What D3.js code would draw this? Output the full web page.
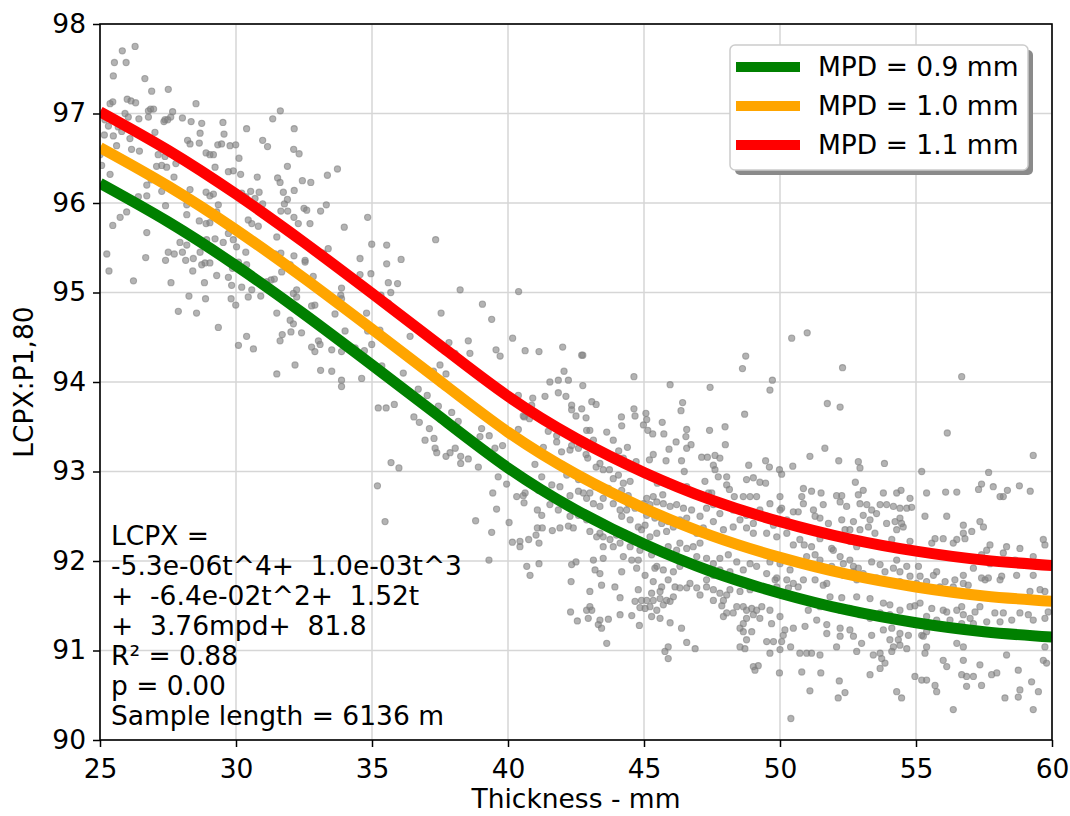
<!DOCTYPE html>
<html lang="en">
<head>
<meta charset="UTF-8">
<title>LCPX vs thickness</title>
<script src="https://cdn.jsdelivr.net/npm/d3@7"></script>
<style>
    body { margin: 0; background: #fff; }
    text { font-family: "DejaVu Sans", sans-serif; fill: #000; }
</style>
</head>
<body>
<script>
    const xTicks = [25, 30, 35, 40, 45, 50, 55, 60]
    const yTicks = [90, 91, 92, 93, 94, 95, 96, 97, 98]
    // fitted curves, every 2.5 mm
    const curveT = [25, 27.5, 30, 32.5, 35, 37.5, 40, 42.5, 45, 47.5, 50, 52.5, 55, 57.5, 60]
    const mpd09 = [96.22, 95.79, 95.30, 94.76, 94.19, 93.61, 93.04, 92.57, 92.19, 91.88, 91.64, 91.45, 91.31, 91.21, 91.15]
    const mpd10 = [96.62, 96.19, 95.70, 95.16, 94.59, 94.01, 93.44, 92.97, 92.59, 92.28, 92.04, 91.85, 91.71, 91.61, 91.55]
    const mpd11 = [97.02, 96.59, 96.10, 95.56, 94.99, 94.41, 93.84, 93.37, 92.99, 92.68, 92.44, 92.25, 92.11, 92.01, 91.95]
    const legendLabels = ['MPD = 0.9 mm', 'MPD = 1.0 mm', 'MPD = 1.1 mm']
    const noteLines = ['LCPX =', '-5.3e-06t^4+  1.0e-03t^3', '+  -6.4e-02t^2+  1.52t', '+  3.76mpd+  81.8',
        'R\u00b2 = 0.88', 'p = 0.00', 'Sample length = 6136 m']
    // measured points [thickness, LCPX]
    const samples = [
        [26.29,97.75],[25.82,97.70],[25.53,97.57],[25.96,97.57],[25.49,97.42],[26.65,97.39],[26.90,97.25],[27.51,97.27],
        [26.00,97.16],[26.14,97.14],[26.31,97.12],[25.47,97.13],[25.37,97.11],[28.53,97.11],[26.86,97.05],[26.97,97.05],
        [26.78,97.03],[27.67,97.02],[31.63,97.03],[31.35,96.94],[26.43,96.94],[25.92,97.00],[26.04,96.96],[26.78,96.96],
        [27.39,96.93],[27.35,96.91],[27.49,96.93],[27.60,96.96],[28.03,96.95],[28.35,96.91],[28.74,96.89],[29.52,96.90],
        [30.39,96.83],[32.14,96.83],[25.31,96.86],[25.67,96.85],[25.80,96.80],[25.49,96.75],[26.10,96.72],[27.02,96.79],
        [28.68,96.78],[29.56,96.77],[28.22,96.70],[28.31,96.66],[28.65,96.67],[29.33,96.65],[29.47,96.66],[29.78,96.64],
        [29.99,96.65],[30.98,96.70],[31.16,96.63],[32.12,96.60],[32.32,96.55],[25.61,96.64],[26.16,96.60],[26.45,96.58],
        [27.14,96.54],[27.39,96.52],[28.90,96.56],[29.04,96.54],[29.17,96.54],[30.11,96.50],[31.89,96.41],[33.73,96.38],
        [33.36,96.31],[27.08,96.41],[27.27,96.42],[27.45,96.40],[27.79,96.44],[29.23,96.40],[29.72,96.35],[29.90,96.36],
        [30.17,96.32],[30.78,96.29],[31.53,96.28],[31.62,96.23],[32.44,96.25],[32.75,96.23],[25.37,96.32],[27.72,96.29],
        [26.72,96.20],[26.88,96.26],[28.31,96.15],[27.27,96.13],[28.90,96.12],[29.04,96.08],[29.17,96.10],[30.21,96.11],
        [30.54,96.13],[30.85,96.12],[30.36,96.07],[30.70,96.05],[30.98,95.99],[31.74,96.12],[32.14,96.14],[31.89,96.04],
        [31.78,95.99],[31.90,95.91],[31.65,95.91],[32.50,95.94],[32.60,95.92],[33.11,95.91],[33.32,95.98],[32.29,95.77],
        [32.72,95.77],[33.98,95.73],[34.84,95.84],[25.98,95.90],[25.74,95.84],[25.47,95.75],[26.41,96.07],[26.72,96.08],
        [27.41,95.97],[28.19,95.98],[28.19,95.87],[28.65,95.80],[28.90,95.77],[29.04,95.78],[29.29,95.90],[29.35,95.98],
        [30.45,95.81],[30.58,95.77],[30.82,95.74],[31.31,95.81],[32.13,95.84],[25.00,96.54],[25.06,96.42],[25.16,96.76],
        [25.18,96.93],
        [26.72,95.67],[25.25,95.43],[25.33,95.24],[26.23,95.13],[26.68,95.39],[27.41,95.36],[27.51,95.45],[27.73,95.43],
        [27.94,95.56],[28.03,95.45],[28.15,95.36],[28.19,95.53],[28.43,95.38],[28.41,95.24],[28.68,95.45],[28.74,95.31],
        [28.86,95.33],[29.04,95.33],[28.92,95.59],[29.23,95.60],[29.53,95.56],[29.72,95.66],[29.90,95.59],[30.02,95.51],
        [30.36,95.45],[30.09,95.34],[30.39,95.31],[29.87,95.27],[29.72,95.17],[29.84,95.08],[30.21,95.06],[30.58,95.03],
        [30.91,94.96],[30.45,94.95],[29.82,94.93],[29.99,94.86],[28.88,94.93],[28.27,94.96],[27.61,95.11],[28.84,95.11],
        [29.29,95.19],[27.88,94.79],[28.55,94.77],[29.35,94.61],[30.39,94.51],[30.09,94.41],[30.64,94.37],[31.50,94.77],
        [31.99,94.69],[32.11,94.65],[32.41,94.55],[32.02,94.56],[31.70,94.53],[31.62,94.46],[32.78,94.39],[32.90,94.34],
        [33.09,94.42],[33.03,94.46],[33.27,94.60],[34.01,94.57],[33.52,94.36],[33.88,94.34],[34.38,94.38],[34.72,94.35],
        [34.80,94.77],[34.84,94.57],[34.99,94.42],[33.64,94.76],[32.17,94.19],[31.50,94.09],[33.11,94.13],[33.52,94.12],
        [33.88,94.02],[33.88,93.95],[34.62,94.04],[31.43,95.43],[31.65,95.44],[32.13,95.41],[32.54,95.36],[32.54,95.34],
        [32.84,95.18],[32.44,95.18],[31.29,95.14],[31.41,95.15],[31.13,95.12],[32.23,95.03],[32.11,94.99],[32.23,94.95],
        [32.78,94.85],[32.90,94.86],[33.39,95.49],[33.21,95.44],[34.56,95.38],[34.56,95.20],[34.96,95.21],[33.88,95.05],
        [33.85,94.97],[33.88,94.93],[31.68,95.23],[31.99,95.31],[34.99,95.54],[31.50,95.62],
        [37.34,95.59],[38.24,95.03],[40.39,95.01],[39.06,94.87],[39.40,94.70],[37.54,94.77],[40.17,94.49],[39.56,94.36],
        [38.54,94.46],[37.83,94.44],[38.60,94.32],[40.63,94.35],[41.14,94.34],[42.01,94.39],[42.71,94.30],[35.54,95.53],
        [35.54,95.32],[36.07,95.37],[35.60,95.11],[35.94,95.10],[35.69,95.00],[35.33,94.97],[35.60,94.88],[35.29,94.58],
        [36.40,94.51],[38.05,94.32],[39.71,94.29],
        [35.36,94.18],[36.15,94.10],[37.26,94.12],[37.50,94.19],[37.72,94.09],[36.70,93.92],[37.03,93.85],[35.82,93.75],
        [35.23,93.71],[35.52,93.71],[37.44,93.73],[37.93,93.66],[38.17,93.56],[36.54,93.61],[36.74,93.55],[37.11,93.48],
        [36.95,93.35],[37.28,93.37],[37.32,93.26],[37.38,93.21],[37.72,93.17],[37.87,93.21],[38.06,93.26],[38.26,93.17],
        [38.26,93.09],[38.54,93.14],[35.70,93.10],[35.99,93.04],[35.20,92.84],[38.91,93.05],[39.03,93.48],[38.97,93.39],
        [39.31,93.40],[39.52,93.26],[39.80,93.29],[39.64,92.94],[39.44,92.76],[39.95,92.86],[40.38,93.47],[40.60,93.61],
        [40.79,93.59],[40.99,93.08],[41.24,92.94],[41.54,94.00],[41.85,94.02],[42.22,94.02],[42.06,94.12],[41.85,93.88],
        [42.13,93.84],[41.36,93.84],[40.69,93.72],[40.87,93.74],[42.34,93.74],[42.34,93.69],[42.50,93.62],[40.56,93.62],
        [41.30,93.58],[41.48,93.45],[41.79,93.40],[41.97,93.22],[42.28,93.24],[42.59,93.26],[42.34,93.29],[41.79,93.33],
        [42.16,92.96],[41.61,92.85],[41.91,92.83],[42.28,92.73],[40.56,92.73],[40.32,92.72],[40.63,92.76],[41.12,92.79],
        [40.91,93.82],[40.38,93.85],[42.59,92.91],[42.59,92.78],[42.03,93.07],[41.54,93.13],[41.30,93.27],[40.93,93.27],
        [35.48,92.44],[38.81,92.45],[39.40,92.32],[39.58,92.58],[40.04,92.43],[39.30,92.01],[40.16,92.21],[40.44,92.22],
        [40.44,92.16],[40.76,92.24],[41.14,92.20],[41.03,92.29],[41.08,92.37],[41.26,92.37],[41.63,92.34],[41.91,92.37],
        [42.22,92.39],[42.40,92.37],[40.59,92.65],[41.08,92.57],[41.24,92.51],[41.54,92.63],[41.85,92.57],[42.28,92.50],
        [42.59,92.51],[40.69,91.94],[40.81,91.84],[41.14,91.97],[42.34,91.96],[42.50,91.99],[42.32,91.77],[42.30,91.43],
        [42.55,91.33],
        [50.43,94.49],[48.74,94.29],[48.62,94.15],[49.72,94.02],[49.63,93.91],[44.63,94.06],[45.96,93.97],[47.43,93.94],
        [42.75,94.30],[42.75,93.96],[42.71,93.70],[43.08,93.78],[43.24,93.75],[42.87,93.60],[44.63,93.70],[44.67,93.62],
        [45.07,93.65],[45.10,93.58],[44.17,93.61],[44.18,93.51],[44.98,93.52],[45.14,93.46],[45.32,93.42],[45.67,93.55],
        [45.73,93.42],[46.42,93.77],[46.36,93.68],[46.57,93.47],[46.54,93.39],[46.73,93.30],[46.57,93.26],[46.18,93.33],
        [45.92,93.25],[47.41,93.46],[47.98,93.50],[47.99,93.30],[48.70,93.64],[42.89,93.46],[43.01,93.46],[43.63,93.44],
        [43.87,93.35],[43.14,93.35],[44.39,93.27],[44.07,93.23],[42.87,93.19],[42.93,93.15],[43.38,93.09],[43.24,93.05],
        [43.50,93.02],[43.73,93.02],[44.06,92.96],[44.24,93.15],[44.71,93.11],[45.20,93.13],[45.34,93.19],[45.81,93.12],
        [46.38,93.12],[47.12,93.16],[47.33,93.16],[47.61,93.18],[47.79,93.15],[47.55,93.07],[47.61,93.02],[46.48,93.00],
        [47.73,92.94],[48.04,92.94],[48.04,92.85],[48.14,92.80],[47.24,92.89],[48.85,93.07],[49.47,93.12],[49.61,93.05],
        [49.98,93.02],[50.47,93.06],[50.06,92.97],[48.77,92.91],[49.02,92.93],[49.26,92.88],[49.47,92.87],[48.65,92.72],
        [48.90,92.72],[49.14,92.72],[50.00,92.72],[46.57,92.83],[45.93,92.85],[45.22,92.94],[45.49,92.87],[45.34,92.72],
        [45.10,92.70],[45.69,92.74],[44.49,92.89],[44.24,92.87],[43.87,92.92],[44.18,92.79],[44.42,92.73],[43.69,92.81],
        [43.20,92.83],[42.77,92.76],[43.01,92.76],[42.89,92.70],[43.50,92.70],[47.37,92.76],[47.49,92.76],[48.32,92.72],
        [51.00,94.55],[52.30,94.16],[56.68,94.06],[51.74,93.76],[52.21,93.72],[56.15,93.43],[59.31,93.18],[51.65,93.26],
        [51.10,93.17],[52.16,93.12],[52.88,93.11],[52.94,93.04],[53.84,93.09],[55.21,93.00],[57.67,92.99],[52.77,92.88],
        [57.41,92.86],[57.84,92.83],[58.80,92.84],[58.36,92.79],[57.30,92.80],[59.20,92.78],[56.50,92.77],[56.09,92.77],
        [55.39,92.76],[50.86,92.81],[51.16,92.78],[51.51,92.76],[50.80,92.72],[52.08,92.73],[52.27,92.73],[53.06,92.79],
        [52.88,92.74],[53.80,92.76],[54.29,92.76],[54.45,92.79],[54.78,92.70],[58.21,92.72],[58.09,92.72],
        [43.14,92.64],[43.38,92.61],[43.87,92.64],[44.12,92.57],[44.36,92.57],[44.42,92.64],[44.67,92.59],[44.98,92.64],
        [45.22,92.63],[45.47,92.66],[45.71,92.64],[45.96,92.61],[46.20,92.63],[46.45,92.59],[45.10,92.51],[45.40,92.48],
        [45.65,92.42],[45.89,92.44],[46.32,92.46],[46.57,92.48],[44.49,92.46],[44.18,92.50],[44.79,92.38],[45.47,92.31],
        [45.83,92.33],[46.08,92.38],[45.22,92.27],[44.91,92.35],[45.04,92.40],[46.75,92.57],[47.06,92.50],[47.30,92.59],
        [47.55,92.63],[47.79,92.53],[48.04,92.64],[48.28,92.57],[48.53,92.46],[48.77,92.51],[49.02,92.42],[49.26,92.57],
        [49.51,92.50],[49.76,92.40],[50.00,92.57],[50.25,92.46],[50.49,92.55],[50.67,92.55],[49.63,92.64],[50.06,92.59],
        [48.77,92.37],[48.28,92.38],[47.92,92.35],[47.55,92.44],[47.18,92.37],[46.94,92.31],[49.02,92.31],[49.51,92.31],
        [49.88,92.27],[50.25,92.31],[50.49,92.18],[50.73,92.24],[47.06,92.20],
        [42.89,92.46],[43.01,92.33],[43.26,92.27],[43.50,92.27],[43.75,92.24],[43.99,92.29],[43.87,92.16],[43.50,92.16],
        [43.38,92.31],[44.12,92.20],[44.30,92.31],[44.61,92.25],[44.85,92.12],[45.10,92.20],[44.49,92.16],[44.24,92.05],
        [44.79,92.01],[45.28,92.07],[45.65,92.09],[45.89,92.16],[46.20,92.12],[46.32,92.20],[46.57,92.14],[46.81,92.16],
        [46.94,92.05],[46.69,91.99],[47.06,91.94],[47.30,92.03],[47.55,91.97],[47.79,92.03],[48.10,92.07],[48.41,91.99],
        [48.65,91.90],[48.90,91.97],[49.14,91.94],[49.51,91.86],[49.88,91.81],[50.25,91.79],[50.49,91.75],[49.63,91.99],
        [50.00,91.97],[50.37,91.90],[47.79,91.90],[48.16,91.88],[48.53,91.79],[47.55,91.84],[47.30,91.79],[46.32,91.94],
        [46.08,91.88],[45.71,91.90],[45.47,91.94],
        [43.14,92.01],[43.50,92.03],[43.20,91.90],[43.38,91.86],[44.18,91.88],[44.55,92.01],[45.04,91.84],[44.73,91.92],
        [45.40,91.92],[45.34,91.77],[45.65,91.71],[45.89,91.79],[46.14,91.71],[46.32,91.70],[46.57,91.70],[45.59,91.66],
        [45.28,91.64],[44.79,91.68],[44.12,91.59],[44.67,91.55],[44.91,91.56],[45.10,91.56],[45.22,91.49],[45.34,91.56],
        [45.59,91.58],[45.83,91.56],[46.08,91.60],[45.96,91.55],[45.71,91.51],[45.47,91.45],[45.28,91.38],[45.59,91.36],
        [45.04,91.47],[44.85,91.48],[44.55,91.39],[44.12,91.40],[43.69,91.35],[43.38,91.34],[43.32,91.29],[43.44,91.25],
        [43.01,91.49],[43.08,91.45],[42.89,91.45],[42.95,91.36],[43.01,91.66],[43.44,91.73],[43.93,91.71],[45.96,91.31],
        [46.38,91.25],[46.57,91.09],[46.88,91.02],[45.89,91.04],[45.77,90.99],[45.89,90.91],[43.63,91.08],[44.83,91.28],
        [47.79,91.64],[47.55,91.56],[47.92,91.56],[48.04,91.62],[47.86,91.50],[48.04,91.42],[47.92,91.38],[48.28,91.42],
        [48.41,91.49],[48.65,91.49],[48.77,91.45],[48.96,91.47],[49.14,91.45],[49.33,91.49],[49.02,91.40],[48.77,91.36],
        [48.65,91.30],[48.53,91.25],[48.65,91.21],[48.96,91.21],[48.77,91.12],[48.71,91.02],[48.53,91.04],[49.26,91.36],
        [49.63,91.45],[49.69,91.30],[50.00,91.38],[50.18,91.23],[50.49,91.25],[50.12,91.17],[50.06,91.10],[49.76,91.10],
        [49.51,91.10],[50.39,91.04],[50.73,90.97],[50.00,91.01],[49.63,90.97],[49.02,90.82],[49.08,90.78],[49.20,90.83],
        [49.98,90.75],[47.30,91.71],[46.94,91.70],[46.69,91.75],[47.06,91.62],[47.55,91.68],[48.16,91.68],[48.53,91.66],
        [48.90,91.68],[49.26,91.71],[49.57,91.70],[49.88,91.71],[50.31,91.70],[50.67,91.71],[49.82,91.79],
        [50.86,92.64],[51.23,92.57],[51.59,92.63],[52.21,92.66],[52.45,92.61],[52.94,92.64],[53.19,92.63],[53.37,92.57],
        [53.68,92.63],[53.92,92.63],[54.17,92.61],[54.41,92.59],[54.66,92.59],[54.84,92.60],[51.47,92.48],[51.78,92.42],
        [51.29,92.50],[52.27,92.46],[52.70,92.44],[53.06,92.51],[53.31,92.46],[53.55,92.53],[53.92,92.42],[54.23,92.44],
        [54.47,92.42],[54.41,92.48],[52.57,92.35],[52.39,92.35],[52.94,92.35],[53.25,92.38],[53.49,92.31],[54.29,92.35],
        [54.53,92.38],[50.89,92.18],[51.16,92.16],[51.47,92.25],[51.90,92.14],[52.57,92.22],[52.82,92.16],[53.19,92.22],
        [53.55,92.18],[54.11,92.24],[54.78,92.22],[55.33,92.50],[56.13,92.50],[56.74,92.40],[57.35,92.44],[57.48,92.38],
        [57.05,92.33],[56.80,92.25],[56.50,92.24],[55.70,92.25],[56.00,92.25],[55.58,92.20],[56.37,92.20],[56.74,92.31],
        [57.60,92.12],[57.72,92.18],[58.33,92.16],[58.82,92.14],[59.68,92.24],[59.74,92.18],[57.41,92.07],[58.21,92.09],
        [57.72,91.97],[58.33,91.99],[58.64,92.01],[59.31,92.05],
        [50.98,92.05],[51.10,91.96],[51.47,92.01],[51.29,92.07],[51.96,92.12],[52.21,92.05],[51.90,91.94],[52.33,91.97],
        [52.57,92.01],[52.70,91.94],[52.88,91.92],[53.06,91.86],[53.37,91.99],[53.68,91.96],[53.86,91.88],[54.17,91.92],
        [54.41,91.88],[54.29,92.01],[54.66,91.94],[54.78,91.83],[55.09,91.94],[55.15,91.83],[55.39,91.77],[55.64,91.84],
        [55.76,91.88],[56.07,91.77],[56.43,91.79],[56.74,91.84],[57.11,91.92],[57.41,91.81],[57.54,91.79],[57.66,91.81],
        [58.09,91.79],[58.15,91.83],[58.70,91.84],[59.31,91.84],[59.74,91.66],[59.56,91.68],[59.19,91.66],[50.86,91.79],
        [51.29,91.79],[51.59,91.73],[51.72,91.75],[52.33,91.84],[52.70,91.88],[52.82,91.79],[53.19,91.81],[53.55,91.81],
        [53.92,91.77],[54.41,91.77],[55.02,91.75],[55.45,91.70],[55.88,91.71],[56.37,91.71],[56.74,91.75],[56.92,91.73],
        [51.84,91.60],[52.27,91.59],[52.82,91.60],[53.31,91.58],[53.80,91.53],[54.04,91.51],[54.78,91.49],[54.96,91.50],
        [55.15,91.53],[55.58,91.47],[56.00,91.45],[56.13,91.43],[56.50,91.45],[56.68,91.49],[56.74,91.40],[56.99,91.36],
        [57.17,91.43],[57.35,91.49],[57.90,91.42],[58.21,91.42],[58.52,91.34],[58.82,91.42],[59.13,91.40],[59.31,91.34],
        [59.74,91.36],[59.86,91.43],[58.09,91.32],[57.60,91.32],[57.11,91.30],[56.68,91.30],[56.25,91.34],[55.88,91.29],
        [55.76,91.34],[55.39,91.38],[54.41,91.45],[54.04,91.40],[53.68,91.42],[53.31,91.36],[52.94,91.40],[52.57,91.47],
        [52.21,91.45],[51.47,91.49],[51.23,91.53],[51.04,91.45],[50.92,91.27],[51.35,91.34],[51.72,91.29],[52.21,91.25],
        [52.57,91.23],[53.37,91.17],[53.80,91.23],[54.11,91.25],[54.41,91.19],[54.72,91.17],[55.21,91.17],[55.39,91.21],
        [50.98,90.97],[51.16,90.97],[51.47,90.95],[50.80,90.76],[51.50,90.75],[52.08,91.04],[52.82,90.99],[53.00,91.08],
        [53.43,90.95],[53.68,90.97],[53.74,90.91],[53.86,90.86],[53.68,90.80],[53.31,90.73],[54.04,91.12],[54.17,91.04],
        [54.35,91.12],[54.41,91.06],[54.11,90.99],[54.66,91.02],[55.27,91.16],[55.39,91.04],[55.33,90.97],[56.00,90.89],
        [56.13,90.82],[56.50,91.08],[56.74,91.04],[56.74,90.89],[56.68,90.73],[56.86,90.71],[57.11,90.71],[57.35,90.84],
        [56.86,90.60],[57.41,90.61],[57.78,90.73],[57.97,90.75],[58.33,90.95],[58.76,90.78],[59.25,90.65],[59.50,90.54],
        [58.82,90.56],[58.27,90.47],[58.76,90.48],[59.68,90.89],[59.74,91.04],[59.80,90.86],[51.10,90.55],[52.18,90.66],
        [52.39,90.53],[52.14,90.47],[54.29,90.54],[54.47,90.47],[54.96,90.71],[55.21,90.67],[55.39,90.67],[55.70,90.61],
        [55.76,90.54],[56.37,90.34],[59.31,90.34],[51.72,91.19],[52.70,91.16],[52.21,91.16],
        [50.40,90.24]
    ]

    const [width, height] = [1070, 816]
    const plot = {left: 100, right: 1052, top: 24, bottom: 740}
    const fontSize = 26.5

    const x = d3.scaleLinear().domain([25, 60]).range([plot.left, plot.right])
    const y = d3.scaleLinear().domain([90, 98]).range([plot.bottom, plot.top])

    const svg = d3.select('body').append('svg')
        .attr('width', width)
        .attr('height', height)

    // grid
    const grid = svg.append('g').attr('stroke', '#d6d6d6').attr('stroke-width', 1.5)
    grid.selectAll('line.vx').data(xTicks).enter().append('line')
        .attr('x1', d => x(d)).attr('x2', d => x(d))
        .attr('y1', plot.top).attr('y2', plot.bottom)
    grid.selectAll('line.hy').data(yTicks).enter().append('line')
        .attr('y1', d => y(d)).attr('y2', d => y(d))
        .attr('x1', plot.left).attr('x2', plot.right)

    svg.append('clipPath').attr('id', 'clip').append('rect')
        .attr('x', plot.left).attr('y', plot.top)
        .attr('width', plot.right - plot.left).attr('height', plot.bottom - plot.top)

    // scatter
    svg.append('g').attr('clip-path', 'url(#clip)')
        .selectAll('circle').data(samples).enter().append('circle')
        .attr('cx', d => x(d[0]))
        .attr('cy', d => y(d[1]))
        .attr('r', 3.1)
        .attr('fill', '#808080')
        .attr('fill-opacity', 0.6)
        .attr('stroke', '#808080')
        .attr('stroke-opacity', 0.6)
        .attr('stroke-width', 1.1)

    // fitted curves
    const series = [mpd09, mpd10, mpd11]
    const colors = ['green', 'orange', 'red']
    const line = d3.line()
        .x((d, i) => x(curveT[i]))
        .y(d => y(d))
        .curve(d3.curveNatural)
    svg.append('g').attr('clip-path', 'url(#clip)')
        .selectAll('path').data(series).enter().append('path')
        .attr('d', d => line(d))
        .attr('fill', 'none')
        .attr('stroke', (d, i) => colors[i])
        .attr('stroke-width', 11)

    // axes
    const xAxis = d3.axisBottom(x).tickValues(xTicks).tickSize(7).tickPadding(12)
    const yAxis = d3.axisLeft(y).tickValues(yTicks).tickSize(7).tickPadding(7)
    const gx = svg.append('g').attr('transform', `translate(0,${plot.bottom})`).call(xAxis)
    const gy = svg.append('g').attr('transform', `translate(${plot.left},0)`).call(yAxis)
    ;[gx, gy].forEach(g => {
        g.select('.domain').remove()
        g.selectAll('.tick line').attr('stroke', '#000').attr('stroke-width', 1.5)
        g.selectAll('.tick text').attr('font-size', fontSize).attr('font-family', '"DejaVu Sans", sans-serif').attr('fill', '#000')
    })

    svg.append('rect')
        .attr('x', plot.left).attr('y', plot.top)
        .attr('width', plot.right - plot.left).attr('height', plot.bottom - plot.top)
        .attr('fill', 'none').attr('stroke', '#000').attr('stroke-width', 1.6)

    // axis titles
    svg.append('text')
        .attr('x', (plot.left + plot.right) / 2).attr('y', 808)
        .attr('text-anchor', 'middle').attr('font-size', fontSize)
        .text('Thickness - mm')
    svg.append('text')
        .attr('transform', `translate(33,${(plot.top + plot.bottom) / 2}) rotate(-90)`)
        .attr('text-anchor', 'middle').attr('font-size', fontSize)
        .text('LCPX:P1,80')

    // equation block
    svg.append('g').selectAll('text').data(noteLines).enter().append('text')
        .attr('x', 111)
        .attr('y', (d, i) => 545 + i * 30)
        .attr('font-size', fontSize)
        .style('white-space', 'pre')
        .text(d => d)

    // legend
    const lg = svg.append('g').attr('transform', 'translate(730,45)')
    lg.append('rect').attr('x', 5).attr('y', 5).attr('width', 298).attr('height', 125)
        .attr('rx', 5).attr('fill', '#8a8a8a')
    lg.append('rect').attr('width', 298).attr('height', 125)
        .attr('rx', 5).attr('fill', '#fff').attr('stroke', '#cccccc').attr('stroke-width', 1.5)
    const items = lg.selectAll('g.item').data(legendLabels).enter().append('g')
        .attr('transform', (d, i) => `translate(0,${22 + i * 39})`)
    items.append('line')
        .attr('x1', 6).attr('x2', 70)
        .attr('stroke', (d, i) => colors[i]).attr('stroke-width', 10)
    items.append('text')
        .attr('x', 88).attr('y', 9)
        .attr('font-size', fontSize)
        .text(d => d)
</script>
</body>
</html>
